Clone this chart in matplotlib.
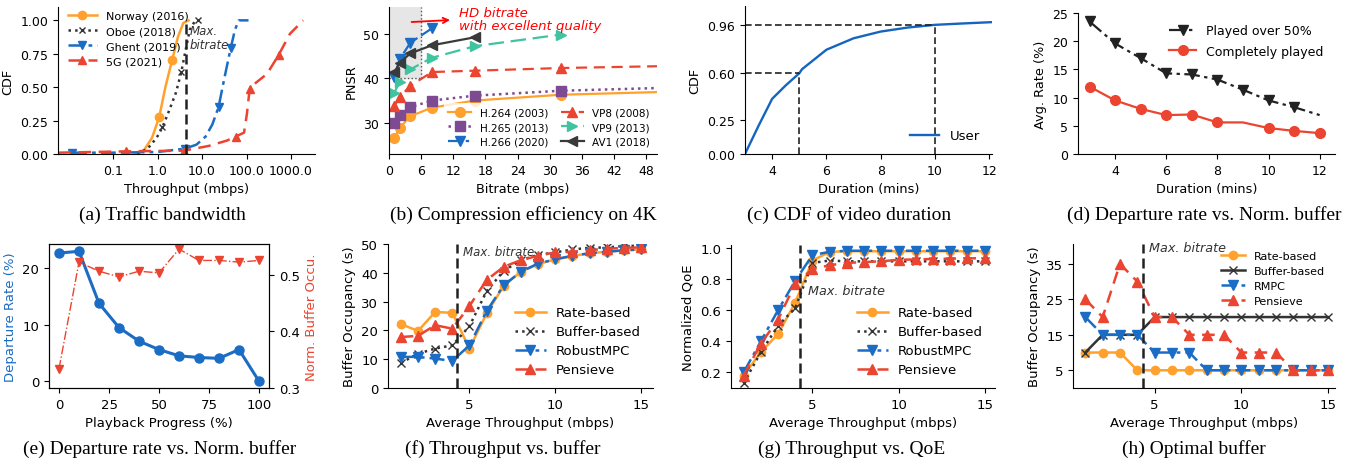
import numpy as np
import matplotlib
matplotlib.use('Agg')
import matplotlib.pyplot as plt
from matplotlib.ticker import FixedLocator, NullLocator

W, H = 1364, 464
plt.rcParams['font.family'] = 'DejaVu Sans'
plt.rcParams['font.size'] = 9.5

# colours
ORANGE = '#FFA12C'
BLACK = '#333333'
BLUE = '#1a6cc4'
RED = '#EB4430'
PURPLE = '#7E4A92'
TEAL = '#40C4A0'

DASHDOT = (0, (6, 2, 1.5, 2))
DASHED = (0, (5, 3))

# (a) traffic bandwidth CDFs
norway_x = [0.3, 0.5, 0.75, 1.09, 1.5, 2.12, 2.9, 3.8, 5.0]
norway_y = [0, 0.03, 0.12, 0.275, 0.5, 0.70, 0.88, 0.98, 1.0]
oboe_x = [0.35, 0.6, 0.95, 1.29, 1.8, 2.6, 3.4, 4.3, 5.3, 6.8, 8.3]
oboe_y = [0, 0.04, 0.12, 0.2, 0.32, 0.46, 0.61, 0.78, 0.93, 0.99, 1.0]
ghent_x = [0.012, 0.1, 1.0, 4.1, 7.5, 12, 17, 23.5, 31, 44, 55, 67, 111]
ghent_y = [0.01, 0.01, 0.015, 0.04, 0.07, 0.13, 0.22, 0.35, 0.55, 0.79, 0.93, 1.0, 1.0]
g5_x = [0.006, 0.2, 3.9, 14, 36, 57, 88, 102, 118, 145, 290, 525, 950, 1880]
g5_y = [0.01, 0.02, 0.025, 0.06, 0.1, 0.13, 0.16, 0.3, 0.49, 0.52, 0.6, 0.74, 0.9, 1.0]
max_bitrate = 4.3

# (b) compression efficiency
br = [1, 2, 4, 8, 16, 32, 50]
h264 = [26.6, 28.9, 31.5, 33.4, 35.0, 36.3, 36.9]
h265 = [30.0, 31.8, 33.5, 35.0, 36.1, 37.2, 37.8]
vp8 = [33.8, 35.8, 38.3, 41.4, 41.7, 42.3, 42.7]
vp9 = [36.8, 39.2, 42.0, 44.6, 47.2, 49.8]
h266 = [40.3, 44.3, 48.0, 51.2]
av1 = [41.3, 43.5, 45.6, 47.4, 49.2]

# (c) video duration CDF
dur_x = [3, 3.5, 4, 4.5, 5, 5.1, 6, 7, 8, 9, 10, 11, 12.1]
dur_y = [0, 0.21, 0.41, 0.51, 0.60, 0.63, 0.775, 0.86, 0.91, 0.94, 0.96, 0.97, 0.98]

# (d) departure rate vs duration
mins = [3, 4, 5, 6, 7, 8, 9, 10, 11, 12]
over50 = [23.5, 19.6, 17.0, 14.3, 14.1, 13.2, 11.4, 9.5, 8.3, 6.9]
complete = [11.95, 9.5, 8.0, 6.9, 7.0, 5.6, 5.6, 4.6, 4.1, 3.7]

# (e) departure rate vs playback progress
progress = [0, 10, 20, 30, 40, 50, 60, 70, 80, 90, 100]
departure = [22.7, 23.0, 13.8, 9.5, 7.1, 5.6, 4.5, 4.2, 4.05, 5.6, 0]
norm_buf = [0.334, 0.522, 0.506, 0.496, 0.506, 0.503, 0.545, 0.525, 0.525, 0.522, 0.525]

# (f)(g)(h) ABR algorithms vs average throughput
tput = list(range(1, 16))
buf_rate = [22.2, 19.8, 26.4, 26.1, 13.7, 25.9, 35.5, 40.4, 43.0, 44.7, 45.8, 46.8, 47.3, 47.8, 48.1]
buf_bb = [8.7, 11.9, 13.7, 14.8, 21.5, 33.6, 40.7, 44.4, 46.2, 47.1, 48.1, 48.7, 48.8, 49.3, 49.4]
buf_mpc = [10.8, 10.8, 10.2, 9.4, 14.8, 26.7, 35.7, 40.4, 43.2, 44.7, 45.9, 46.8, 47.3, 47.8, 48.1]
buf_pen = [17.7, 18.1, 21.8, 20.6, 28.5, 37.5, 42.1, 44.4, 45.9, 47.1, 47.3, 47.9, 48.3, 48.7, 48.8]

qoe_rate = [0.18, 0.33, 0.447, 0.65, 0.92, 0.976, 0.98, 0.98, 0.98, 0.98, 0.98, 0.98, 0.98, 0.98, 0.98]
qoe_bb = [0.13, 0.33, 0.50, 0.615, 0.905, 0.92, 0.915, 0.915, 0.915, 0.915, 0.915, 0.915, 0.915, 0.915, 0.915]
qoe_mpc = [0.20, 0.40, 0.60, 0.79, 0.955, 0.976, 0.983, 0.983, 0.983, 0.983, 0.983, 0.983, 0.983, 0.983, 0.983]
qoe_pen = [0.18, 0.385, 0.54, 0.77, 0.865, 0.89, 0.905, 0.91, 0.915, 0.925, 0.927, 0.93, 0.932, 0.934, 0.935]

opt_rate = [10, 10, 10, 5, 5, 5, 5, 5, 5, 5, 5, 5, 5, 5, 5]
opt_bb = [10, 15, 15, 15, 20, 20, 20, 20, 20, 20, 20, 20, 20, 20, 20]
opt_mpc = [20, 15, 15, 15, 10, 10, 10, 5, 5, 5, 5, 5, 5, 5, 5]
opt_pen = [25, 20, 35, 30, 20, 20, 15, 15, 15, 10, 10, 10, 5, 5, 5]

captions = ['(a) Traffic bandwidth', '(b) Compression efficiency on 4K',
            '(c) CDF of video duration', '(d) Departure rate vs. Norm. buffer',
            '(e) Departure rate vs. Norm. buffer', '(f) Throughput vs. buffer',
            '(g) Throughput vs. QoE', '(h) Optimal buffer']


def rect(l, r, t, b):
    return [l / W, 1 - b / H, (r - l) / W, (b - t) / H]


def clean(ax):
    ax.spines['top'].set_visible(False)
    ax.spines['right'].set_visible(False)


def top_fonts(ax):
    ax.tick_params(labelsize=9)
    ax.xaxis.label.set_size(9.3)
    ax.yaxis.label.set_size(9.3)


fig = plt.figure(figsize=(W / 100, H / 100), dpi=100)

# ---- (a)
ax = fig.add_axes(rect(58, 315, 8, 155))
ax.set_xscale('log')
ax.plot(norway_x, norway_y, color=ORANGE, lw=1.8, marker='o', ms=6, markevery=[3, 5], label='Norway (2016)')
ax.plot(oboe_x, oboe_y, color=BLACK, lw=1.8, ls=':', marker='x', ms=5, markevery=[3, 6, 10], label='Oboe (2018)')
ax.plot(ghent_x, ghent_y, color=BLUE, lw=1.8, ls=DASHDOT, marker='v', ms=6, markevery=[0, 3, 7, 9], label='Ghent (2019)')
ax.plot(g5_x, g5_y, color=RED, lw=1.8, ls=DASHED, marker='^', ms=6, markevery=[1, 2, 5, 8, 11], label='5G (2021)')
ax.plot([max_bitrate, max_bitrate], [0, 1.0], color='#222222', lw=1.8, ls=(0, (4, 2)))
ax.text(5.3, 0.97, 'Max.\nbitrate', style='italic', fontsize=8.5, color='#333333', va='top', linespacing=1.1)
ax.set_xlim(0.0058, 3460)
ax.set_ylim(0, 1.1)
ax.xaxis.set_major_locator(FixedLocator([0.1, 1, 10, 100, 1000]))
ax.xaxis.set_minor_locator(NullLocator())
ax.set_xticklabels(['0.1', '1.0', '10.0', '100.0', '1000.0'])
ax.set_yticks([0, 0.25, 0.5, 0.75, 1.0])
ax.set_yticklabels(['0.00', '0.25', '0.50', '0.75', '1.00'])
ax.set_xlabel('Throughput (mbps)')
ax.set_ylabel('CDF')
ax.legend(loc='upper left', bbox_to_anchor=(0.0, 1.04), frameon=False, fontsize=8,
          labelspacing=0.45, handlelength=2.6)
top_fonts(ax)
clean(ax)

# ---- (b)
ax = fig.add_axes(rect(389, 657, 8, 155))
ax.axvspan(0, 6, ymin=(40 - 23) / 33, ymax=1, color='#e6e6e6', zorder=0)
ax.plot([6, 6], [40, 56], color='#555555', lw=1, ls=':')
ax.plot([0, 6], [40, 40], color='#555555', lw=1, ls=':')
ax.plot(br, h264, color=ORANGE, lw=1.6, marker='o', ms=7, markevery=list(range(6)), label='H.264 (2003)')
ax.plot(br, h265, color=PURPLE, lw=1.8, ls=':', marker='s', ms=7, markevery=list(range(6)), label='H.265 (2013)')
ax.plot(br[:4], h266, color=BLUE, lw=1.6, ls=DASHDOT, marker='v', ms=7, label='H.266 (2020)')
ax.plot(br, vp8, color=RED, lw=1.6, ls=DASHED, marker='^', ms=7, markevery=list(range(6)), label='VP8 (2008)')
ax.plot(br[:6], vp9, color=TEAL, lw=1.6, ls=(0, (7, 3)), marker='>', ms=7, label='VP9 (2013)')
ax.plot(br[:5], av1, color='#3a3a3a', lw=1.6, marker='<', ms=7, label='AV1 (2018)')
ax.annotate('', xy=(11.9, 53.1), xytext=(3.7, 52.6),
            arrowprops=dict(arrowstyle='->', color='red', lw=1.3))
ax.text(13, 53.3, 'HD bitrate\nwith excellent quality', color='red', style='italic',
        fontsize=9.5, va='center', linespacing=1.0)
ax.set_xlim(0, 50)
ax.set_ylim(23, 56)
ax.set_xticks(range(0, 49, 6))
ax.set_yticks([30, 40, 50])
ax.set_xlabel('Bitrate (mbps)')
ax.set_ylabel('PNSR')
ax.legend(loc='lower right', ncol=2, fontsize=7.5, frameon=True, framealpha=0.8,
          edgecolor='none', labelspacing=0.45, columnspacing=1.2, handlelength=2.2,
          borderaxespad=0.3)
top_fonts(ax)
clean(ax)

# ---- (c)
ax = fig.add_axes(rect(745, 992, 7, 155))
ax.plot(dur_x, dur_y, color='#1565C0', lw=1.7, label='User')
ax.plot([3, 5], [0.60, 0.60], color='#222222', lw=1.2, ls=(0, (4, 2)))
ax.plot([5, 5], [0, 0.60], color='#222222', lw=1.2, ls=(0, (4, 2)))
ax.plot([3, 10], [0.96, 0.96], color='#222222', lw=1.2, ls=(0, (4, 2)))
ax.plot([10, 10], [0, 0.96], color='#222222', lw=1.2, ls=(0, (4, 2)))
ax.set_xlim(3, 12.1)
ax.set_ylim(0, 1.1)
ax.set_xticks([4, 6, 8, 10, 12])
ax.set_yticks([0, 0.25, 0.60, 0.96])
ax.set_yticklabels(['0.00', '0.25', '0.60', '0.96'])
ax.set_xlabel('Duration (mins)')
ax.set_ylabel('CDF')
ax.legend(loc='lower right', frameon=False, fontsize=9.5, handlelength=2.2)
top_fonts(ax)
clean(ax)

# ---- (d)
ax = fig.add_axes(rect(1078, 1335, 14, 155))
ax.plot(mins, over50, color='#222222', lw=1.6, ls=(0, (7, 2, 1.5, 2)), marker='v', ms=7,
        markevery=list(range(9)), label='Played over 50%')
ax.plot(mins, complete, color=RED, lw=1.6, marker='o', ms=7,
        markevery=[0, 1, 2, 3, 4, 5, 7, 8, 9], label='Completely played')
ax.set_xlim(2.55, 12.6)
ax.set_ylim(0, 25)
ax.set_xticks([4, 6, 8, 10, 12])
ax.set_yticks([0, 5, 10, 15, 20, 25])
ax.set_xlabel('Duration (mins)')
ax.set_ylabel('Avg. Rate (%)')
ax.legend(loc='upper right', frameon=False, fontsize=9, handlelength=2.2, labelspacing=0.6)
top_fonts(ax)
clean(ax)

# ---- (e)
ax = fig.add_axes(rect(49, 269, 245, 389))
ax.plot(progress, departure, color=BLUE, lw=2.2, marker='o', ms=6.5)
ax.set_xlim(-5, 105)
ax.set_ylim(-1.2, 24.3)
ax.set_xticks([0, 25, 50, 75, 100])
ax.set_yticks([0, 10, 20])
ax.set_xlabel('Playback Progress (%)')
ax.set_ylabel('Departure Rate (%)', color=BLUE)
ax2 = ax.twinx()
ax2.plot(progress, norm_buf, color=RED, lw=1, ls='-.', marker='v', ms=6)
ax2.set_ylim(0.3, 0.554)
ax2.set_yticks([0.3, 0.4, 0.5])
ax2.set_ylabel('Norm. Buffer Occu.', color=RED)

# ---- (f), (g), (h)
def abr_axes(r, rate, bb, mpc, pen, mpc_name, bb_ls, leg_kw):
    ax = fig.add_axes(rect(*r))
    ax.plot(tput, rate, color=ORANGE, lw=1.8, marker='o', ms=6, label='Rate-based')
    ax.plot(tput, bb, color=BLACK, lw=1.8, ls=bb_ls, marker='x', ms=5.5, label='Buffer-based')
    ax.plot(tput, mpc, color=BLUE, lw=1.8, ls=DASHDOT, marker='v', ms=6.5, label=mpc_name)
    ax.plot(tput, pen, color=RED, lw=1.8, ls=DASHED, marker='^', ms=6.5, label='Pensieve')
    ax.axvline(max_bitrate, color='#222222', lw=1.8, ls=(0, (4, 2)))
    ax.set_xticks([5, 10, 15])
    ax.set_xlabel('Average Throughput (mbps)')
    ax.legend(frameon=False, **leg_kw)
    clean(ax)
    return ax

ax = abr_axes((388, 653, 245, 389), buf_rate, buf_bb, buf_mpc, buf_pen, 'RobustMPC', ':',
              dict(loc='lower right', fontsize=9.5, labelspacing=0.45, handlelength=2.3))
ax.set_xlim(0.25, 15.7)
ax.set_ylim(0, 50)
ax.set_yticks(range(0, 51, 10))
ax.set_ylabel('Buffer Occupancy (s)')
ax.text(4.65, 47.3, 'Max. bitrate', style='italic', fontsize=8.5, color='#333333', va='center')

ax = abr_axes((731, 995, 246, 389), qoe_rate, qoe_bb, qoe_mpc, qoe_pen, 'RobustMPC', ':',
              dict(loc='lower right', fontsize=9.5, labelspacing=0.45, handlelength=2.3))
ax.set_xlim(0.27, 15.6)
ax.set_ylim(0.1, 1.02)
ax.set_yticks([0.2, 0.4, 0.6, 0.8, 1.0])
ax.set_ylabel('Normalized QoE')
ax.text(4.73, 0.726, 'Max. bitrate', style='italic', fontsize=9.2, color='#333333', va='center')

ax = abr_axes((1073, 1335, 245, 389), opt_rate, opt_bb, opt_mpc, opt_pen, 'RMPC', '-',
              dict(loc='upper right', bbox_to_anchor=(1.0, 1.02), fontsize=8,
                   labelspacing=0.45, handlelength=2.2))
ax.set_xlim(0.29, 15.4)
ax.set_ylim(0, 40.6)
ax.set_yticks([5, 15, 25, 35])
ax.set_ylabel('Buffer Occupancy (s)')
ax.text(4.67, 39.7, 'Max. bitrate', style='italic', fontsize=9.2, color='#333333', va='center')

# captions
cap_x = [162, 523, 849, 1204, 160, 503, 852, 1194]
for i, c in enumerate(captions):
    y = 215 if i < 4 else 449
    fig.text(cap_x[i] / W, 1 - y / H, c, ha='center', va='center',
             family='Liberation Serif', fontsize=14)

fig.savefig('out.png', dpi=100)
